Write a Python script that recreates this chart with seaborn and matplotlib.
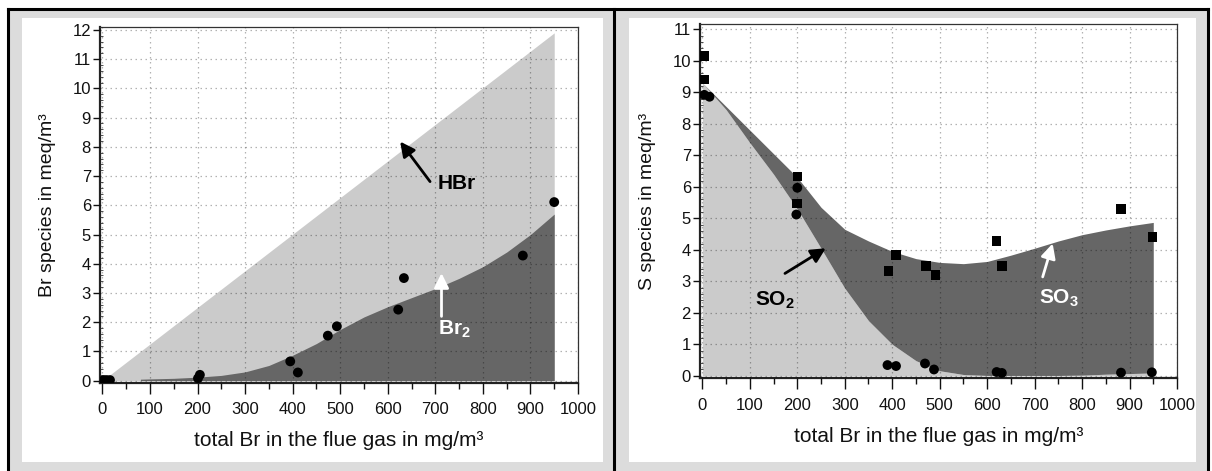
import numpy as np
import pandas as pd
import matplotlib
matplotlib.use("Agg")
import matplotlib.pyplot as plt
from matplotlib.patches import Rectangle
from matplotlib.lines import Line2D
from matplotlib.ticker import MultipleLocator
import seaborn as sns

# ---------------- data ----------------
# Left panel: bromine species
hbr_x = [0, 950]
hbr_total = [0.0, 11.9]
br2_x = [80, 100, 150, 200, 250, 300, 350, 400, 450, 500, 550, 600, 650, 700, 750, 800, 850, 900, 950]
br2_y = [0.05, 0.06, 0.08, 0.12, 0.18, 0.3, 0.52, 0.87, 1.27, 1.75, 2.18, 2.53, 2.84, 3.15, 3.5, 3.9, 4.4, 5.0, 5.7]
br_pts_x = [3, 9, 16, 201, 205, 395, 411, 474, 493, 622, 634, 884, 950]
br_pts_y = [0.02, 0.02, 0.02, 0.08, 0.2, 0.66, 0.28, 1.54, 1.86, 2.43, 3.51, 4.28, 6.11]

# Right panel: sulphur species
s_x = [0, 50, 100, 150, 200, 250, 300, 350, 400, 450, 500, 550, 600, 650, 700, 750, 800, 850, 900, 950]
so2_y = [9.3, 8.45, 7.4, 6.4, 5.3, 4.05, 2.78, 1.75, 1.0, 0.48, 0.16, 0.04, 0.01, 0.01, 0.01, 0.01, 0.02, 0.05, 0.07, 0.09]
s_total = [9.3, 8.55, 7.8, 7.05, 6.3, 5.35, 4.65, 4.28, 3.95, 3.72, 3.6, 3.56, 3.63, 3.83, 4.05, 4.28, 4.48, 4.63, 4.76, 4.87]
sq_x = [5, 5, 201, 199, 392, 408, 471, 491, 620, 631, 882, 948]
sq_y = [10.15, 9.4, 6.32, 5.47, 3.33, 3.83, 3.49, 3.2, 4.28, 3.48, 5.3, 4.4]
ci_x = [4, 15, 200, 198, 390, 408, 469, 488, 620, 631, 882, 947]
ci_y = [8.92, 8.86, 5.97, 5.12, 0.34, 0.31, 0.39, 0.2, 0.12, 0.09, 0.1, 0.11]

x_ticks = [0, 100, 200, 300, 400, 500, 600, 700, 800, 900, 1000]
xlabel = "total Br in the flue gas in mg/m³"
ylabel_left = "Br species in meq/m³"
ylabel_right = "S species in meq/m³"

LIGHT = "#cbcbcb"
DARK = "#666666"
FRAME = "#dcdcdc"

# ---------------- style ----------------
sns.set_style("white")
plt.rcParams['font.family'] = ['Liberation Sans', 'DejaVu Sans']
plt.rcParams['mathtext.fontset'] = 'custom'
plt.rcParams['mathtext.rm'] = 'Liberation Sans'
plt.rcParams['mathtext.bf'] = 'Liberation Sans:bold'
plt.rcParams['mathtext.it'] = 'Liberation Sans:italic'

W, H = 1212, 471
fig = plt.figure(figsize=(W / 100, H / 100), dpi=100)
fig.patch.set_facecolor("white")


def box(x0, y0, x1, y1):
    return [x0 / W, 1 - y1 / H, (x1 - x0) / W, (y1 - y0) / H]


def add_rect(x0, y0, x1, y1, fc):
    b = box(x0, y0, x1, y1)
    r = Rectangle((b[0], b[1]), b[2], b[3], transform=fig.transFigure,
                  facecolor=fc, edgecolor="none", zorder=-10)
    fig.add_artist(r)


# frame cells
add_rect(7, 8, 613, 475, FRAME)
add_rect(613, 8, 1208, 475, FRAME)
add_rect(22, 18, 603, 462, "white")
add_rect(629, 18, 1196, 462, "white")
# black borders
for (xa, ya, xb, yb) in [(7.5, 9, 1207.5, 9), (7.5, 9, 7.5, 475), (613.5, 9, 613.5, 475), (1207.5, 9, 1207.5, 475)]:
    fig.add_artist(Line2D([xa / W, xb / W], [1 - ya / H, 1 - yb / H], transform=fig.transFigure,
                          color="black", lw=2.2, zorder=-5, solid_capstyle="projecting"))

axL = fig.add_axes(box(100, 27.3, 578, 383))
axR = fig.add_axes(box(700, 24, 1177, 378.3))


def style_axis(ax, ytop):
    ax.set_facecolor("none")
    ax.set_xlim(-5, 1000)
    ax.set_ylim(-0.08, ytop)
    ax.set_xticks(x_ticks)
    ax.set_xticklabels([str(t) for t in x_ticks])
    ax.xaxis.set_minor_locator(MultipleLocator(50))
    ax.yaxis.set_major_locator(MultipleLocator(1))
    ax.yaxis.set_minor_locator(MultipleLocator(0.2))
    ax.tick_params(axis='x', which='major', direction='out', length=8, width=1, pad=6,
                   labelsize=12, colors='#111111', bottom=True, top=False)
    ax.tick_params(axis='x', which='minor', direction='out', length=4.5, width=1,
                   colors='#111111', bottom=True, top=False)
    ax.tick_params(axis='y', which='major', direction='out', length=5, width=1, pad=1.5,
                   labelsize=12, colors='#111111', left=True, right=False)
    ax.tick_params(axis='y', which='minor', direction='in', length=2, width=0.6,
                   colors='#333333', left=True, right=False)
    for s in ['left', 'bottom']:
        ax.spines[s].set_linewidth(1.6)
        ax.spines[s].set_color('#222222')
    for s in ['top', 'right']:
        ax.spines[s].set_linewidth(0.9)
        ax.spines[s].set_color('#333333')
        ax.spines[s].set_visible(True)
    ax.set_axisbelow(False)
    ax.grid(True, which='major', color='black', alpha=0.3, linestyle=(0, (1.2, 2.8)), linewidth=0.9)
    ax.set_xlabel(xlabel, fontsize=15, labelpad=10, color='#111111')


# ---------------- left panel ----------------
axL.fill_between(hbr_x, 0, hbr_total, color=LIGHT, lw=0, zorder=1)
axL.fill_between(br2_x, 0, br2_y, color=DARK, lw=0, zorder=1.1)
sns.scatterplot(x=br_pts_x, y=br_pts_y, ax=axL, color='black', marker='o', s=50,
                edgecolor='none', zorder=4, legend=False)
style_axis(axL, 12.09)
axL.set_ylabel(ylabel_left, fontsize=14, labelpad=12, color='#111111')
axL.annotate('', xy=(626, 8.18), xytext=(689, 6.81),
             arrowprops=dict(arrowstyle='-|>', color='black', lw=2, mutation_scale=22,
                             shrinkA=0, shrinkB=0), zorder=5)
axL.text(746, 6.73, 'HBr', fontsize=15, fontweight='bold', ha='center', va='center', color='black', zorder=5)
axL.annotate('', xy=(713, 3.68), xytext=(713, 2.2),
             arrowprops=dict(arrowstyle='-|>', color='white', lw=2, mutation_scale=22,
                             shrinkA=0, shrinkB=0), zorder=5)
axL.text(740, 1.75, r'$\mathbf{Br_2}$', fontsize=15, ha='center', va='center', color='white', zorder=5)

# ---------------- right panel ----------------
axR.fill_between(s_x, 0, so2_y, color=LIGHT, lw=0, zorder=1)
axR.fill_between(s_x, so2_y, s_total, color=DARK, lw=0, zorder=1.1)
sns.scatterplot(x=sq_x, y=sq_y, ax=axR, color='black', marker='s', s=46,
                edgecolor='none', zorder=4, legend=False)
sns.scatterplot(x=ci_x, y=ci_y, ax=axR, color='black', marker='o', s=50,
                edgecolor='none', zorder=4, legend=False)
style_axis(axR, 11.17)
axR.set_ylabel(ylabel_right, fontsize=14, labelpad=12, color='#111111')
axR.annotate('', xy=(260, 4.05), xytext=(174, 3.25),
             arrowprops=dict(arrowstyle='-|>', color='black', lw=2, mutation_scale=22,
                             shrinkA=0, shrinkB=0), zorder=5)
axR.text(152, 2.4, r'$\mathbf{SO_2}$', fontsize=15, ha='center', va='center', color='black', zorder=5)
axR.annotate('', xy=(738, 4.2), xytext=(717, 3.14),
             arrowprops=dict(arrowstyle='-|>', color='white', lw=2, mutation_scale=22,
                             shrinkA=0, shrinkB=0), zorder=5)
axR.text(752, 2.45, r'$\mathbf{SO_3}$', fontsize=15, ha='center', va='center', color='white', zorder=5)

fig.savefig("out.png", dpi=100)
